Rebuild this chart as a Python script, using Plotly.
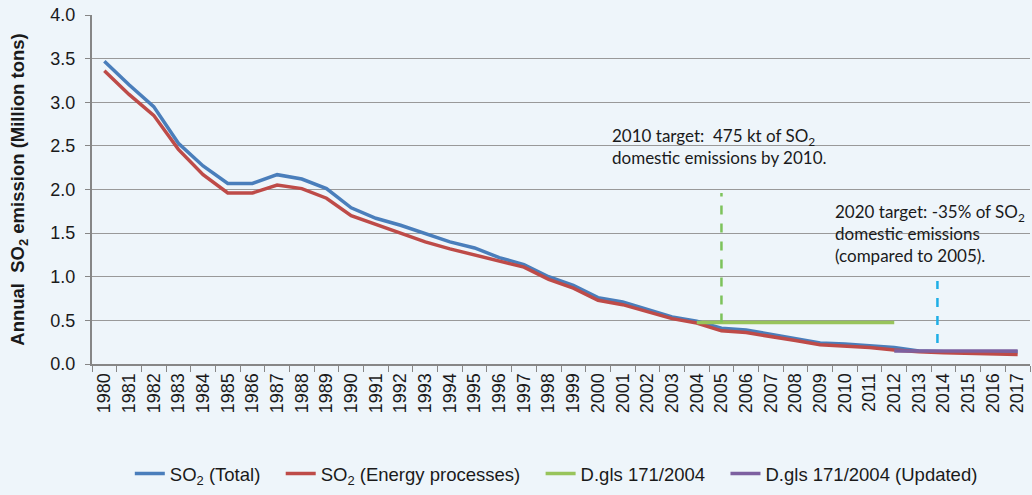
import plotly.graph_objects as go

# Data
years = list(range(1980, 2018))
so2_total = [3.47, 3.20, 2.95, 2.53, 2.27, 2.07, 2.07, 2.17, 2.12, 2.01,
             1.79, 1.67, 1.59, 1.49, 1.40, 1.33, 1.22, 1.14, 1.00, 0.90,
             0.76, 0.71, 0.63, 0.54, 0.49, 0.41, 0.39, 0.34, 0.29, 0.24,
             0.23, 0.21, 0.19, 0.15, 0.14, 0.14, 0.14, 0.14]
so2_energy = [3.36, 3.09, 2.85, 2.46, 2.17, 1.96, 1.96, 2.05, 2.01, 1.90,
              1.70, 1.60, 1.50, 1.40, 1.32, 1.25, 1.19, 1.11, 0.97, 0.87,
              0.73, 0.68, 0.60, 0.52, 0.47, 0.38, 0.36, 0.32, 0.27, 0.22,
              0.20, 0.19, 0.16, 0.14, 0.13, 0.12, 0.11, 0.11]
target_2004_years = [2004, 2012]
target_2004 = [0.475, 0.475]
target_upd_years = [2012, 2017]
target_upd = [0.15, 0.15]

marker_2010_x = 2005
marker_2010_y = [0.475, 1.96]
marker_2020_x = 2013.75
marker_2020_y = [0.24, 0.95]

bg = "#EEF5FA"
font_txt = "Lato, 'Open Sans', sans-serif"
axis_grey = "#868686"
pad = "&nbsp;&nbsp;&nbsp;"  # a bit more room between legend entries

fig = go.Figure()

fig.add_trace(go.Scatter(x=years, y=so2_total, mode="lines", name="SO<sub>2</sub> (Total)" + pad,
                         line=dict(color="#4A7EBB", width=3.5)))
fig.add_trace(go.Scatter(x=years, y=so2_energy, mode="lines", name="SO<sub>2</sub> (Energy processes)" + pad,
                         line=dict(color="#BE4B48", width=3.5)))
fig.add_trace(go.Scatter(x=target_2004_years, y=target_2004, mode="lines", name="D.gls 171/2004" + pad,
                         line=dict(color="#98C45B", width=3.5)))
fig.add_trace(go.Scatter(x=target_upd_years, y=target_upd, mode="lines", name="D.gls 171/2004 (Updated)",
                         line=dict(color="#7D60A0", width=3.5)))

# dashed markers for the targets
fig.add_trace(go.Scatter(x=[marker_2010_x, marker_2010_x], y=marker_2010_y, mode="lines",
                         showlegend=False, line=dict(color="#7DC35B", width=2.5, dash="dash")))
fig.add_trace(go.Scatter(x=[marker_2020_x, marker_2020_x], y=marker_2020_y, mode="lines",
                         showlegend=False, line=dict(color="#1EAEE6", width=2.5, dash="dash")))

fig.add_annotation(x=2000.5, y=2.76, xanchor="left", yanchor="top", showarrow=False, align="left",
                   text="2010 target:  475 kt of SO<sub>2</sub><br>domestic emissions by 2010.",
                   font=dict(family=font_txt, size=17, color="#1a1a1a"))
fig.add_annotation(x=2009.5, y=1.89, xanchor="left", yanchor="top", showarrow=False, align="left",
                   text="2020 target: -35% of SO<sub>2</sub><br>domestic emissions<br>(compared to 2005).",
                   font=dict(family=font_txt, size=17, color="#1a1a1a"))

fig.update_layout(
    width=1032, height=495,
    margin=dict(l=92, r=2, t=15, b=125),
    paper_bgcolor=bg, plot_bgcolor=bg,
    font=dict(family="Arial, 'Liberation Sans', sans-serif", size=18, color="#1a1a1a"),
    showlegend=True,
    legend=dict(orientation="h", x=0.495, xanchor="center", y=-0.315, yanchor="middle",
                font=dict(size=18.5), bgcolor="rgba(0,0,0,0)"),
)

fig.update_xaxes(
    range=[1979.5, 2017.5], tickmode="array", tickvals=years, ticktext=[str(y) for y in years],
    tickangle=-90, ticks="", showgrid=False, zeroline=False,
    showline=True, linecolor=axis_grey, linewidth=2,
    minor=dict(tick0=1979.5, dtick=1, ticks="outside", ticklen=6, tickcolor=axis_grey, showgrid=False),
    tickfont=dict(size=18),
)
fig.update_yaxes(
    range=[0, 4.0], dtick=0.5, tickformat=".1f",
    showgrid=True, gridcolor="#999999", gridwidth=1, zeroline=False,
    showline=True, linecolor=axis_grey, linewidth=2,
    ticks="outside", ticklen=5, tickcolor=axis_grey, ticklabelstandoff=6,
    tickfont=dict(size=18),
    title=dict(text="<b>Annual  SO<sub>2</sub> emission (Million tons)</b>", font=dict(size=18.5), standoff=21),
)

# drop the default body margin so the figure fills the window
fig.write_html("out.html", config={"displayModeBar": False},
               post_script="document.body.style.margin = '0px';")
